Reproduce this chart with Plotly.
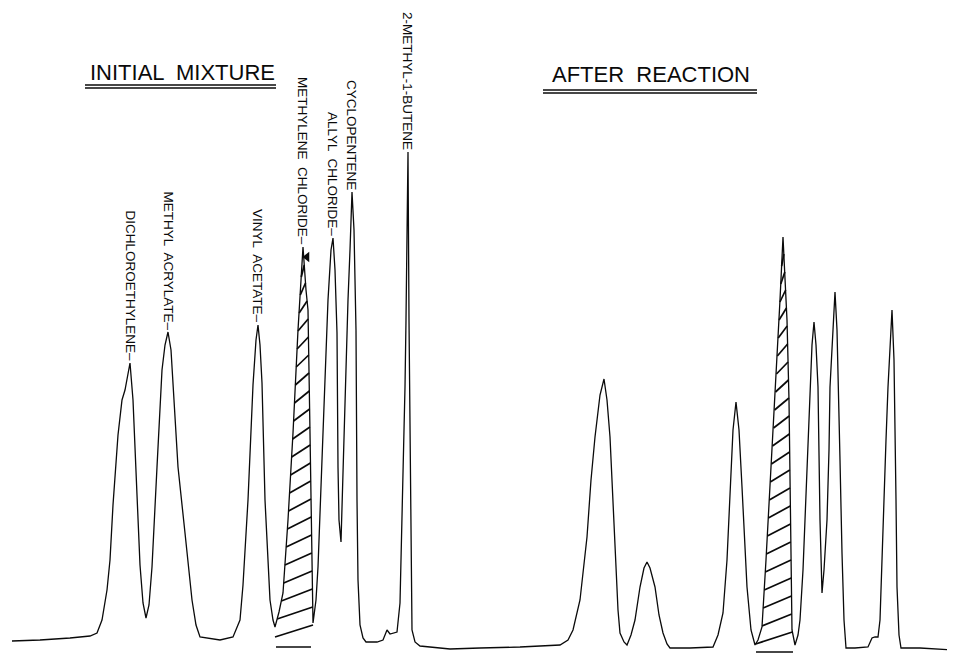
import numpy as np
import plotly.graph_objects as go

# ---- Data (chart-paper position vs. detector response) ----
initial_time = [12, 40, 70, 90, 97, 102, 107, 110, 113, 118, 122, 125, 130, 133, 137, 140, 143, 146,
                149, 152, 157, 162, 165, 168, 171, 173, 178, 185, 192, 196, 200, 220, 233, 240, 243,
                248, 253, 256, 258, 260, 262, 265, 270, 273, 275, 279, 283, 288, 293, 298, 300, 303,
                306, 308, 310, 312, 313, 316, 318, 323, 328, 331, 333, 335, 337, 338, 339, 341, 343,
                346, 348, 350, 352, 354, 356, 357, 358, 360, 363, 366, 377, 383, 387, 390, 393, 397,
                400, 403, 405, 406, 407, 408, 409, 410, 411, 412, 415, 420, 450, 480]
initial_signal = [12, 13, 15, 17, 20, 33, 63, 93, 148, 218, 253, 263, 290, 253, 158, 88, 50, 35,
                  48, 86, 186, 283, 308, 321, 303, 270, 186, 120, 53, 28, 16, 13, 16, 33, 68,
                  153, 268, 313, 328, 308, 270, 153, 53, 33, 26, 41, 60, 133, 220, 323, 353, 406,
                  363, 343, 220, 86, 30, 53, 86, 220, 353, 403, 415, 383, 320, 186, 133, 111, 186,
                  273, 353, 403, 461, 423, 323, 153, 73, 28, 15, 11, 11, 13, 23, 19, 20, 21,
                  50, 166, 266, 333, 440, 501, 333, 250, 166, 23, 11, 7, 4, 5]

after_time = [480, 520, 560, 568, 573, 580, 587, 591, 595, 600, 604, 607, 610, 613, 615, 618, 620,
              624, 627, 631, 635, 640, 644, 647, 650, 655, 659, 663, 667, 670, 690, 713, 718, 723,
              727, 730, 733, 736, 739, 742, 745, 747, 751, 755, 758, 762, 766, 770, 774, 777, 780,
              783, 785, 787, 789, 790, 791, 792, 795, 798, 800, 803, 805, 808, 810, 812, 814, 816,
              818, 819, 820, 822, 824, 827, 829, 830, 833, 835, 837, 838, 840, 842, 844, 846, 855,
              868, 872, 875, 878, 880, 883, 886, 888, 890, 892, 894, 895, 896, 897, 899, 901, 920, 952]
after_signal = [5, 6, 8, 13, 23, 53, 116, 173, 216, 258, 274, 253, 216, 153, 100, 43, 20,
                11, 8, 18, 33, 66, 85, 91, 85, 66, 38, 20, 9, 5, 5, 6, 18, 40,
                93, 166, 223, 251, 223, 166, 103, 66, 23, 8, 13, 26, 93, 166, 233, 290, 353,
                416, 378, 333, 253, 166, 93, 23, 8, 18, 33, 83, 133, 203, 263, 308, 331, 308,
                266, 203, 133, 60, 83, 133, 203, 266, 333, 361, 323, 266, 193, 100, 33, 5, 5,
                6, 15, 16, 16, 33, 133, 213, 266, 313, 343, 293, 233, 153, 66, 18, 5, 5, 3]

compound_names = ["DICHLOROETHYLENE", "METHYL  ACRYLATE", "VINYL  ACETATE",
                  "METHYLENE  CHLORIDE", "ALLYL  CHLORIDE", "CYCLOPENTENE", "2-METHYL-1-BUTENE"]
compound_times = [130, 168, 258, 303, 333, 352, 408]
hatched_times = [303, 783]          # methylene chloride peak in both runs
panel_titles = ["INITIAL  MIXTURE", "AFTER  REACTION"]

# ---------------------------------------------------------------------------
t_all = np.array(initial_time + after_time, dtype=float)
s_all = np.array(initial_signal + after_signal, dtype=float)

fig = go.Figure()
ink = "#0a0a0a"
for t, s in [(initial_time, initial_signal), (after_time, after_signal)]:
    fig.add_trace(go.Scatter(x=t, y=s, mode="lines", line=dict(color=ink, width=1.3),
                             hoverinfo="skip", showlegend=False, cliponaxis=False))

# hatching of the methylene chloride peaks, derived from the trace
hx, hy, bx, by = [], [], [], []
for ht in hatched_times:
    i = int(np.argmin(np.abs(t_all - ht)))
    l = i
    while l > 0 and s_all[l - 1] < s_all[l]:
        l -= 1
    r = i
    while r < len(s_all) - 1 and s_all[r + 1] < s_all[r]:
        r += 1
    rise_t, rise_s = t_all[l:i + 1], s_all[l:i + 1]
    fall_t, fall_s = t_all[i:r + 1][::-1], s_all[i:r + 1][::-1]
    vmin = min(s_all[l], s_all[r])
    start = max(vmin - 10, 9)
    for lev in np.arange(start, s_all[i] - 14, 18):
        x0 = np.interp(lev, rise_s, rise_t)
        x1 = np.interp(lev + 12, fall_s, fall_t)
        hx += [x0, x1, None]
        hy += [lev, lev + 12, None]
    bl = max(vmin - 20, 1)
    bx += [t_all[l] + 1, t_all[r] - 2, None]
    by += [bl, bl, None]

fig.add_trace(go.Scatter(x=hx, y=hy, mode="lines", line=dict(color=ink, width=1.7),
                         hoverinfo="skip", showlegend=False))
fig.add_trace(go.Scatter(x=bx, y=by, mode="lines", line=dict(color=ink, width=1.7),
                         hoverinfo="skip", showlegend=False, cliponaxis=False))

# peak labels (vertical, reading downward, ending at the apex)
for k, (name, ct) in enumerate(zip(compound_names, compound_times)):
    mask = np.abs(t_all - ct) <= 3
    apex = s_all[mask].max()
    tall_peak = k >= len(compound_names) - 2      # these peaks run straight into their labels
    fig.add_annotation(x=ct, y=apex + 1, text=name if tall_peak else name + "–",
                       textangle=90, showarrow=False,
                       xanchor="center", yanchor="bottom", borderpad=0,
                       font=dict(family="Liberation Sans", size=13.5, color=ink))
    if name.startswith("METHYLENE"):
        fig.add_trace(go.Scatter(x=[ct + 4], y=[apex - 10], mode="markers",
                                 marker=dict(symbol="triangle-left", size=9, color=ink),
                                 hoverinfo="skip", showlegend=False))

# panel titles with double underline
for title, cx, cy, x0, x1, uy in [(panel_titles[0], 182, 581, 85, 276, 568),
                                 (panel_titles[1], 651, 579, 543, 757, 563)]:
    fig.add_annotation(x=cx, y=cy, text=title, showarrow=False, xanchor="center", yanchor="middle",
                       font=dict(family="Liberation Sans", size=22, color=ink))
    for dy in (0, -3):
        fig.add_shape(type="line", x0=x0, x1=x1, y0=uy + dy, y1=uy + dy,
                      line=dict(color=ink, width=1.6))

# the page body has an 8 px margin; size the figure so data units equal window pixels
fig.update_layout(width=947, height=645, margin=dict(l=0, r=0, t=0, b=0),
                  paper_bgcolor="white", plot_bgcolor="white",
                  xaxis=dict(range=[8, 955], visible=False, fixedrange=True),
                  yaxis=dict(range=[0, 645], visible=False, fixedrange=True))
fig.write_html("out.html")
